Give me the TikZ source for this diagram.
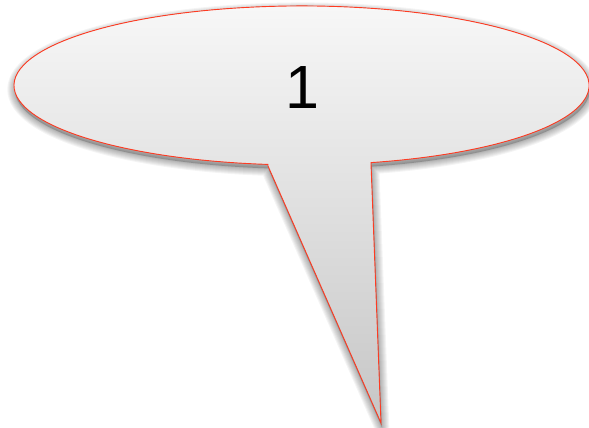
\documentclass[tikz,border=0pt]{standalone}
\usepackage{fontspec}
\newfontfamily\helv{Liberation Sans}
\definecolor{bubbleline}{HTML}{FF3B22}
\definecolor{bubbletop}{HTML}{F8F8F8}
\definecolor{bubblebottom}{HTML}{C6C6C6}
\tikzset{
  bubbleshadow/.style={draw=black, opacity=0.045, line join=round},
  bubblefill/.style={top color=bubbletop, bottom color=bubblebottom},
  bubbleedge/.style={draw=bubbleline, line width=0.9pt, line join=miter},
}
\def\bubble{(371.1,265.4) arc[start angle=284, end angle=623.3, x radius=287.5pt, y radius=79.5pt] -- (268,262) -- (381,5) -- (371,264) -- cycle}
\begin{document}
\begin{tikzpicture}[x=1pt,y=1pt]
\useasboundingbox (0,0) rectangle (589,428);
% soft shadow
\begin{scope}[shift={(0.8,-4)}]
  \foreach \w in {15,13,11,9,7,5,3,1.5}{
    \draw[bubbleshadow, line width=\w pt] \bubble;
  }
  \fill[black, opacity=0.2] \bubble;
\end{scope}
% bubble body
\fill[bubblefill] \bubble;
\draw[bubbleedge] \bubble;
\node[font=\helv\fontsize{61}{61}\selectfont, inner sep=0pt] (label) at (302,340.5) {1};
\end{tikzpicture}
\end{document}
